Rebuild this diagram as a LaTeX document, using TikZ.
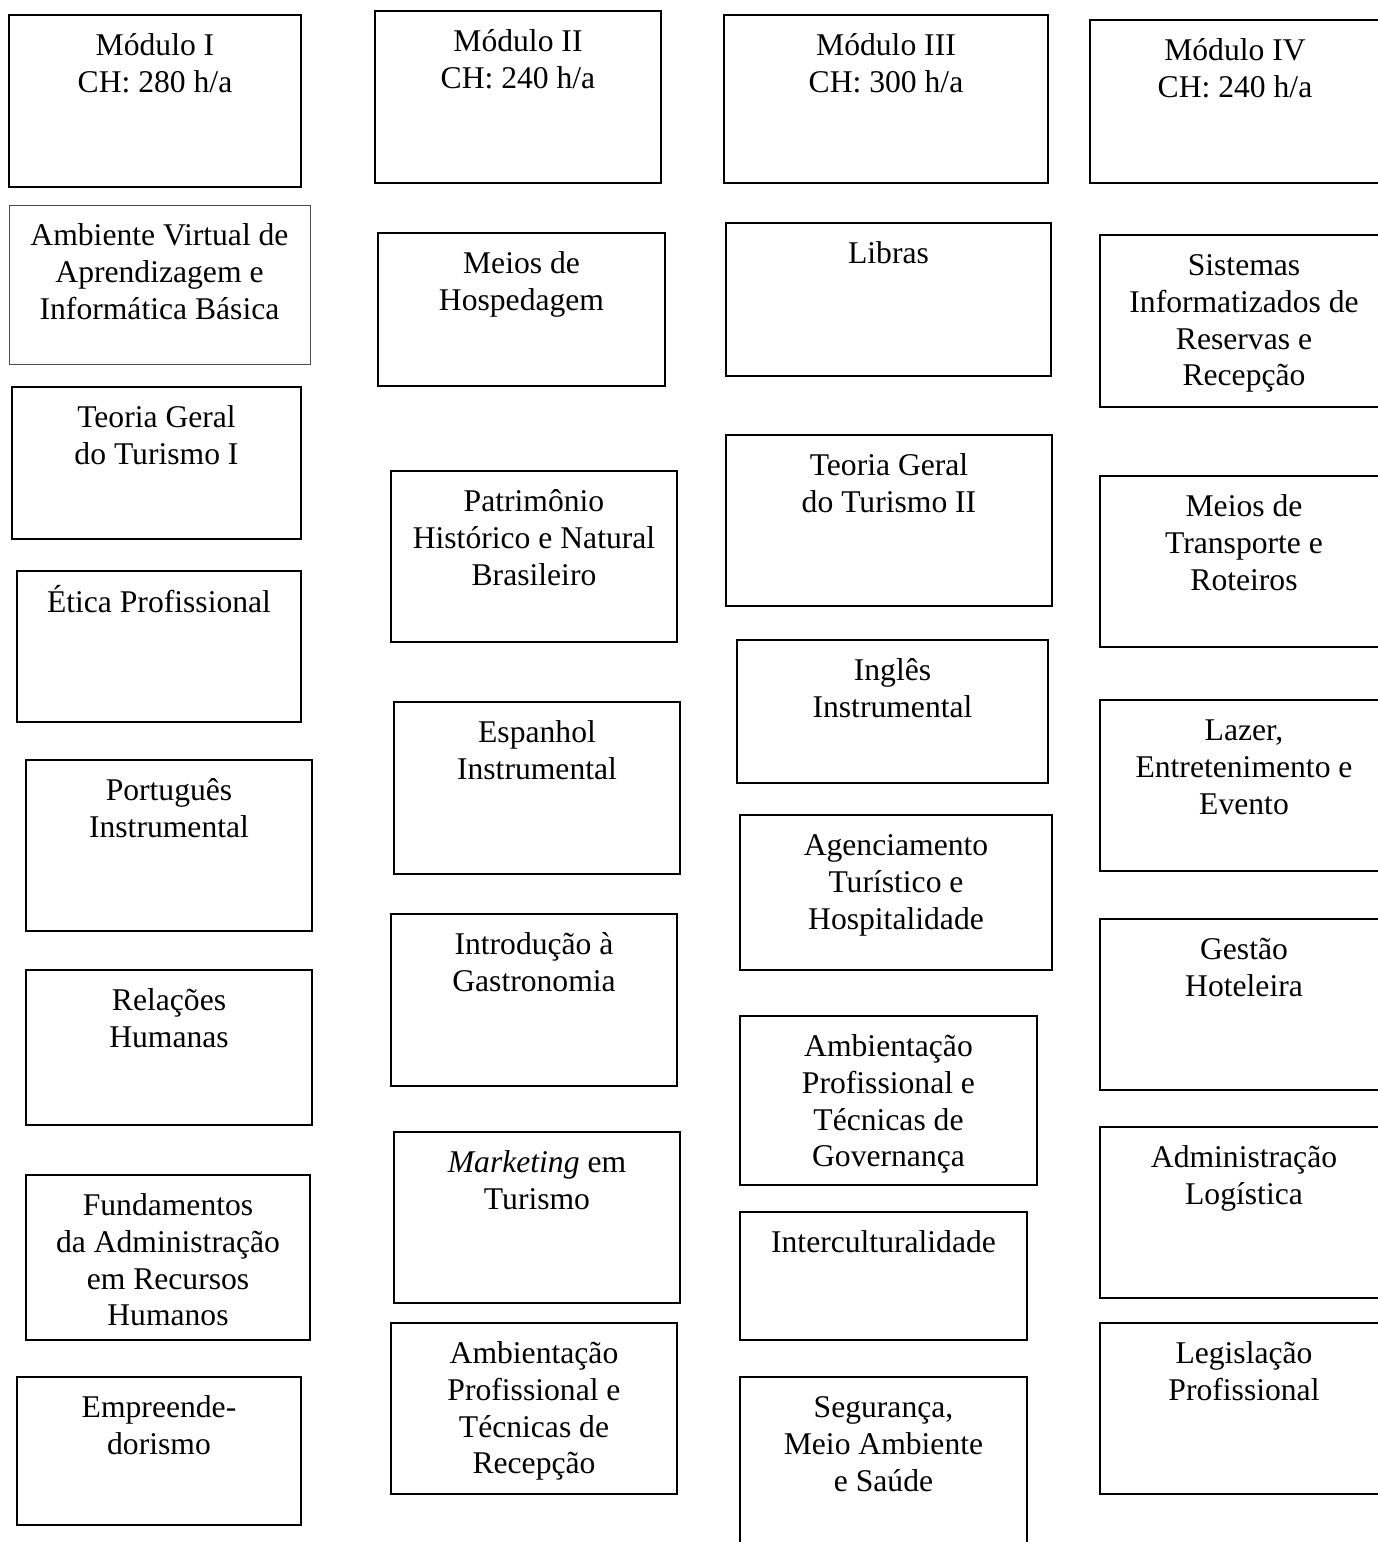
\documentclass[tikz,border=0pt]{standalone}
\usepackage{fontspec}
\setmainfont{Liberation Serif}
\usepackage{tikz}
\usetikzlibrary{positioning,fit}

\begin{document}
\begin{tikzpicture}[x=0.02cm,y=-0.02cm]
\tikzstyle{caixa}=[rectangle,draw=black,line width=1.1pt,inner sep=0pt]
\tikzstyle{caixaclara}=[rectangle,draw=black!70,line width=0.5pt,inner sep=0pt]
\tikzstyle{rotulo}=[align=center,inner sep=0pt,font=\fontsize{18}{21}\selectfont]
\useasboundingbox (0,0) rectangle (1377,1542);
% Modulo I
\node[caixa] (mod1) [fit={(9,15) (301,187)}] {};
\node[rotulo] (mod1txt) [below=0.3cm of mod1.north] {\strut M\'odulo I\\CH: 280 h/a};
\node[caixaclara] (ava) [fit={(9,205) (310,364)}] {};
\node[rotulo] (avatxt) [below=0.3cm of ava.north] {\strut Ambiente Virtual de\\Aprendizagem e\\Inform\'atica B\'asica};
\node[caixa] (tgt1) [fit={(12,387) (301,539)}] {};
\node[rotulo] (tgt1txt) [below=0.3cm of tgt1.north] {\strut Teoria Geral\\do Turismo I};
\node[caixa] (etica) [fit={(17,571) (301,722)}] {};
\node[rotulo] (eticatxt) [below=0.3cm of etica.north] {\strut \'Etica Profissional};
\node[caixa] (port) [fit={(26,760) (312,931)}] {};
\node[rotulo] (porttxt) [below=0.3cm of port.north] {\strut Portugu\^es\\Instrumental};
\node[caixa] (relhum) [fit={(26,970) (312,1125)}] {};
\node[rotulo] (relhumtxt) [below=0.3cm of relhum.north] {\strut Rela\c{c}\~oes\\Humanas};
\node[caixa] (fundadm) [fit={(26,1175) (310,1340)}] {};
\node[rotulo] (fundadmtxt) [below=0.3cm of fundadm.north] {\strut Fundamentos\\da Administra\c{c}\~ao\\em Recursos\\Humanos};
\node[caixa] (empreend) [fit={(17,1377) (301,1525)}] {};
\node[rotulo] (empreendtxt) [below=0.3cm of empreend.north] {\strut Empreende-\\dorismo};
% Modulo II
\node[caixa] (mod2) [fit={(375,11) (661,183)}] {};
\node[rotulo] (mod2txt) [below=0.3cm of mod2.north] {\strut M\'odulo II\\CH: 240 h/a};
\node[caixa] (hosped) [fit={(378,233) (665,386)}] {};
\node[rotulo] (hospedtxt) [below=0.3cm of hosped.north] {\strut Meios de\\Hospedagem};
\node[caixa] (patrim) [fit={(391,471) (677,642)}] {};
\node[rotulo] (patrimtxt) [below=0.3cm of patrim.north] {\strut Patrim\^onio\\Hist\'orico e Natural\\Brasileiro};
\node[caixa] (espanhol) [fit={(394,702) (680,874)}] {};
\node[rotulo] (espanholtxt) [below=0.3cm of espanhol.north] {\strut Espanhol\\Instrumental};
\node[caixa] (gastro) [fit={(391,914) (677,1086)}] {};
\node[rotulo] (gastrotxt) [below=0.3cm of gastro.north] {\strut Introdu\c{c}\~ao \`a\\Gastronomia};
\node[caixa] (marketing) [fit={(394,1132) (680,1303)}] {};
\node[rotulo] (marketingtxt) [below=0.3cm of marketing.north] {\strut \textit{Marketing} em\\Turismo};
\node[caixa] (ambrecep) [fit={(391,1323) (677,1494)}] {};
\node[rotulo] (ambreceptxt) [below=0.3cm of ambrecep.north] {\strut Ambienta\c{c}\~ao\\Profissional e\\T\'ecnicas de\\Recep\c{c}\~ao};
% Modulo III
\node[caixa] (mod3) [fit={(724,15) (1048,183)}] {};
\node[rotulo] (mod3txt) [below=0.3cm of mod3.north] {\strut M\'odulo III\\CH: 300 h/a};
\node[caixa] (libras) [fit={(726,223) (1051,376)}] {};
\node[rotulo] (librastxt) [below=0.3cm of libras.north] {\strut Libras};
\node[caixa] (tgt2) [fit={(726,435) (1052,606)}] {};
\node[rotulo] (tgt2txt) [below=0.3cm of tgt2.north] {\strut Teoria Geral\\do Turismo II};
\node[caixa] (ingles) [fit={(737,640) (1048,783)}] {};
\node[rotulo] (inglestxt) [below=0.3cm of ingles.north] {\strut Ingl\^es\\Instrumental};
\node[caixa] (agenc) [fit={(740,815) (1052,970)}] {};
\node[rotulo] (agenctxt) [below=0.3cm of agenc.north] {\strut Agenciamento\\Tur\'istico e\\Hospitalidade};
\node[caixa] (ambgov) [fit={(740,1016) (1037,1185)}] {};
\node[rotulo] (ambgovtxt) [below=0.3cm of ambgov.north] {\strut Ambienta\c{c}\~ao\\Profissional e\\T\'ecnicas de\\Governan\c{c}a};
\node[caixa] (intercult) [fit={(740,1212) (1027,1340)}] {};
\node[rotulo] (intercultxt) [below=0.3cm of intercult.north] {\strut Interculturalidade};
\node[caixa] (seguranca) [fit={(740,1377) (1027,1570)}] {};
\node[rotulo] (segurancatxt) [below=0.3cm of seguranca.north] {\strut Seguran\c{c}a,\\Meio Ambiente\\e Sa\'ude};
% Modulo IV
\node[caixa] (mod4) [fit={(1090,20) (1380,183)}] {};
\node[rotulo] (mod4txt) [below=0.3cm of mod4.north] {\strut M\'odulo IV\\CH: 240 h/a};
\node[caixa] (sistemas) [fit={(1100,235) (1388,407)}] {};
\node[rotulo] (sistemastxt) [below=0.3cm of sistemas.north] {\strut Sistemas\\Informatizados de\\Reservas e\\Recep\c{c}\~ao};
\node[caixa] (transp) [fit={(1100,476) (1388,647)}] {};
\node[rotulo] (transptxt) [below=0.3cm of transp.north] {\strut Meios de\\Transporte e\\Roteiros};
\node[caixa] (lazer) [fit={(1100,700) (1388,871)}] {};
\node[rotulo] (lazertxt) [below=0.3cm of lazer.north] {\strut Lazer,\\Entretenimento e\\Evento};
\node[caixa] (gestao) [fit={(1100,919) (1388,1090)}] {};
\node[rotulo] (gestaotxt) [below=0.3cm of gestao.north] {\strut Gest\~ao\\Hoteleira};
\node[caixa] (logist) [fit={(1100,1127) (1388,1298)}] {};
\node[rotulo] (logisttxt) [below=0.3cm of logist.north] {\strut Administra\c{c}\~ao\\Log\'istica};
\node[caixa] (legisl) [fit={(1100,1323) (1388,1494)}] {};
\node[rotulo] (legisltxt) [below=0.3cm of legisl.north] {\strut Legisla\c{c}\~ao\\Profissional};
\end{tikzpicture}
\end{document}
